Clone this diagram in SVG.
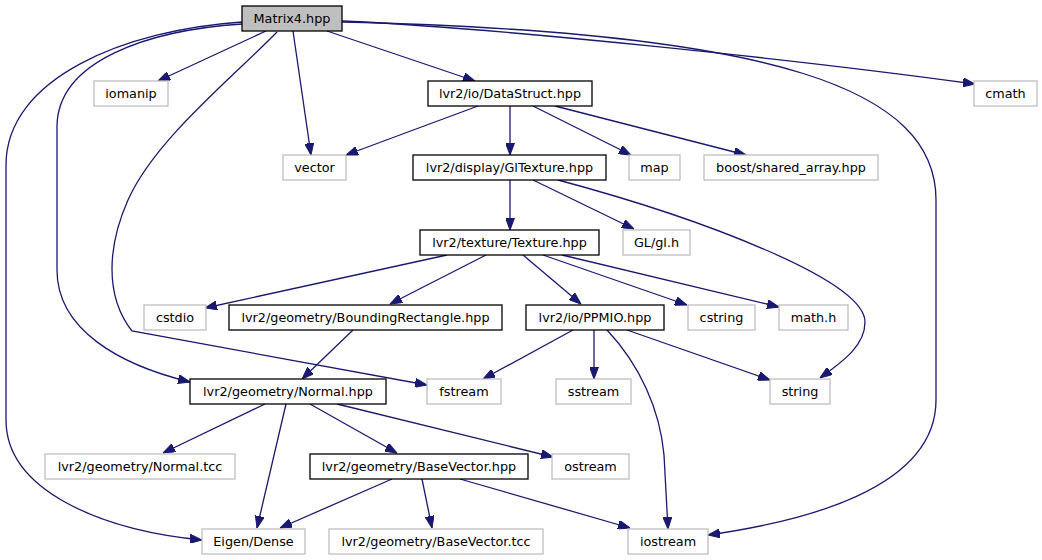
<svg xmlns="http://www.w3.org/2000/svg" width="1042" height="560" viewBox="0 0 1042 560">
<style>
  .n rect { fill: #ffffff; stroke: #000000; stroke-width: 1.3; }
  .x rect { fill: #ffffff; stroke: #bfbfbf; stroke-width: 1.3; }
  #matrix4 rect { fill: #bfbfbf; stroke: #000000; }
  text { font-family: "DejaVu Sans", "Liberation Sans", sans-serif; font-size: 12.8px; fill: #000000; text-anchor: middle; }
  #edges path { fill: none; stroke: #191970; stroke-width: 1.3; marker-end: url(#arr); }
</style>
<defs>
  <marker id="arr" markerUnits="userSpaceOnUse" markerWidth="12" markerHeight="9" refX="12" refY="4.5" orient="auto">
    <path d="M0,0 L12,4.5 L0,9 z" fill="#191970" stroke="#191970" stroke-width="1"/>
  </marker>
</defs>
<rect width="1042" height="560" fill="#ffffff"/>
<g id="edges">
  <path d="M266,31 L158,81"/>
  <path d="M327,31 L475,81"/>
  <path d="M293,31 L311,155"/>
  <path d="M277,32 C230,80 155,140 128,200 C108,245 104,295 132,331 L427,385"/>
  <path d="M242,24 C150,30 57,60 57,127 L57,270 C57,330 120,365 190,382"/>
  <path d="M242,22 C125,30 6,78 6,165 L6,420 C6,490 100,530 202,540"/>
  <path d="M342,21 C500,28 800,60 975,84"/>
  <path d="M342,22 C780,32 936,90 936,200 L936,400 C936,490 800,522 708,535"/>
  <path d="M478,106 L346,155"/>
  <path d="M510,106 L510,155"/>
  <path d="M533,106 L631,155"/>
  <path d="M555,106 L746,155"/>
  <path d="M510,180 L510,230"/>
  <path d="M533,180 L634,229"/>
  <path d="M558,180 C700,218 865,280 865,322 C865,345 845,360 820,378"/>
  <path d="M447,255 L205,308"/>
  <path d="M486,255 L390,304"/>
  <path d="M523,255 L581,304"/>
  <path d="M543,255 L687,305"/>
  <path d="M562,255 L779,307"/>
  <path d="M353,330 L302,379"/>
  <path d="M573,330 L483,379"/>
  <path d="M594,330 L594,379"/>
  <path d="M607,330 C640,365 660,410 664,455 L668,529"/>
  <path d="M627,330 L770,380"/>
  <path d="M265,404 L163,453"/>
  <path d="M286,404 L257,528"/>
  <path d="M310,404 L397,453"/>
  <path d="M337,404 L553,457"/>
  <path d="M392,479 L280,528"/>
  <path d="M422,479 L432,528"/>
  <path d="M460,479 L630,528"/>
</g>
<g id="matrix4" class="n"><rect x="242" y="6" width="100" height="25"/><text x="292" y="23">Matrix4.hpp</text></g>
<g id="iomanip" class="x"><rect x="94" y="81" width="74" height="25"/><text x="131" y="98">iomanip</text></g>
<g id="datastruct" class="n"><rect x="428" y="81" width="164" height="25"/><text x="510" y="98">lvr2/io/DataStruct.hpp</text></g>
<g id="cmath" class="x"><rect x="974" y="81" width="63" height="25"/><text x="1005.5" y="98">cmath</text></g>
<g id="vector" class="x"><rect x="283" y="155" width="63" height="25"/><text x="314.5" y="172">vector</text></g>
<g id="gltexture" class="n"><rect x="413" y="155" width="193" height="25"/><text x="509.5" y="172">lvr2/display/GlTexture.hpp</text></g>
<g id="map" class="x"><rect x="629" y="155" width="51" height="25"/><text x="654.5" y="172">map</text></g>
<g id="boost" class="x"><rect x="704" y="155" width="174" height="25"/><text x="791" y="172">boost/shared_array.hpp</text></g>
<g id="texture" class="n"><rect x="420" y="230" width="179" height="25"/><text x="509.5" y="247">lvr2/texture/Texture.hpp</text></g>
<g id="glh" class="x"><rect x="623" y="230" width="67" height="25"/><text x="656.5" y="247">GL/gl.h</text></g>
<g id="cstdio" class="x"><rect x="144" y="305" width="62" height="25"/><text x="175" y="322">cstdio</text></g>
<g id="boundingrect" class="n"><rect x="229" y="305" width="273" height="25"/><text x="365.5" y="322">lvr2/geometry/BoundingRectangle.hpp</text></g>
<g id="ppmio" class="n"><rect x="526" y="305" width="138" height="25"/><text x="595" y="322">lvr2/io/PPMIO.hpp</text></g>
<g id="cstring" class="x"><rect x="688" y="305" width="67" height="25"/><text x="721.5" y="322">cstring</text></g>
<g id="mathh" class="x"><rect x="779" y="305" width="69" height="25"/><text x="813.5" y="322">math.h</text></g>
<g id="normal" class="n"><rect x="190" y="379" width="196" height="25"/><text x="288" y="396">lvr2/geometry/Normal.hpp</text></g>
<g id="fstream" class="x"><rect x="427" y="379" width="74" height="25"/><text x="464" y="396">fstream</text></g>
<g id="sstream" class="x"><rect x="556" y="379" width="75" height="25"/><text x="593.5" y="396">sstream</text></g>
<g id="string" class="x"><rect x="770" y="379" width="60" height="25"/><text x="800" y="396">string</text></g>
<g id="normaltcc" class="x"><rect x="45" y="454" width="190" height="25"/><text x="140" y="471">lvr2/geometry/Normal.tcc</text></g>
<g id="basevector" class="n"><rect x="310" y="454" width="218" height="25"/><text x="419" y="471">lvr2/geometry/BaseVector.hpp</text></g>
<g id="ostream" class="x"><rect x="552" y="454" width="77" height="25"/><text x="590.5" y="471">ostream</text></g>
<g id="eigendense" class="x"><rect x="202" y="529" width="103" height="25"/><text x="253.5" y="546">Eigen/Dense</text></g>
<g id="basevectortcc" class="x"><rect x="329" y="529" width="214" height="25"/><text x="436" y="546">lvr2/geometry/BaseVector.tcc</text></g>
<g id="iostream" class="x"><rect x="628" y="529" width="80" height="25"/><text x="668" y="546">iostream</text></g>
</svg>
